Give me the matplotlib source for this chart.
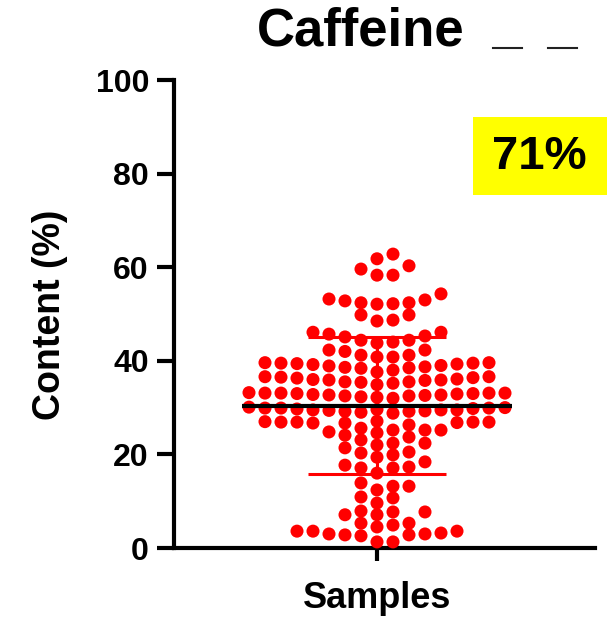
import matplotlib
matplotlib.use("Agg")
import matplotlib.pyplot as plt
import numpy as np
from matplotlib.patches import Rectangle
from matplotlib.lines import Line2D

plt.rcParams['font.family'] = ['Liberation Sans', 'DejaVu Sans']
plt.rcParams['font.weight'] = 'bold'

# ---- data ----
title_text = "Caffeine"
y_label = "Content (%)"
x_label = "Samples"
badge_text = "71%"
y_ticks = [0, 20, 40, 60, 80, 100]

content_values = [
    1.3, 1.3, 2.6, 2.8, 2.8, 3.0, 3.0, 3.2, 3.6, 3.6, 3.6, 4.5,
    4.9, 5.3, 5.3,
    7.1, 7.7, 7.9, 7.7, 7.1,
    10.7, 10.9, 9.6,
    13.9, 13.2, 12.4, 13.2,
    17.7, 17.1, 16.0, 17.1, 17.3,
    19.9, 20.3, 20.5, 19.4, 18.4,
    23.1, 22.0, 21.4, 23.7, 24.1, 22.4, 22.4,
    25.2, 25.6, 24.8, 24.6, 25.2, 25.2, 26.3, 26.7, 26.9, 26.9, 26.9, 26.7,
    26.8, 27.0, 27.1, 26.9,
    30.1, 29.9, 29.9, 29.8, 29.5, 29.3, 29.0, 28.8, 29.2, 29.6, 29.4, 29.2,
    29.5, 29.7, 29.9, 30.0, 29.5,
    33.1, 33.1, 33.1, 33.0, 32.5, 32.3, 32.0, 32.2, 32.6, 32.9, 32.7, 32.5,
    32.8, 33.0, 33.2, 33.1, 32.7,
    36.5, 36.3, 35.9, 35.5, 35.2, 34.9, 35.4, 36.0, 35.8, 35.5, 35.9, 36.1,
    36.4, 36.6, 36.6,
    39.5, 39.5, 38.7, 38.5, 38.0, 37.6, 38.4, 39.2, 38.9, 38.6, 39.0, 39.3,
    39.4, 39.6, 39.6,
    42.3, 41.2, 40.8, 42.0, 40.8, 41.2, 42.3,
    46.1, 45.7, 45.3, 44.4, 44.0, 43.8, 44.4, 45.1, 46.1,
    49.8, 48.5, 48.7, 49.8,
    53.2, 52.4, 52.4, 52.1, 52.2, 53.0, 52.8, 54.3,
    60.3, 61.8, 62.8, 58.3, 58.3, 59.6,
]
mean_value = 30.4
sd_value = 14.6

# ---- figure ----
W, H = 607, 620
fig = plt.figure(figsize=(W / 100, H / 100), dpi=100)
ax_left, ax_right, ax_top, ax_bottom = 174, 595, 80, 548
ax = fig.add_axes([ax_left / W, (H - ax_bottom) / H,
                   (ax_right - ax_left) / W, (ax_bottom - ax_top) / H])
center_px = 377
ax.set_xlim(ax_left - center_px, ax_right - center_px)
ax.set_ylim(0, 100)

# grid-column swarm layout (Prism-like)
col_step = 16
min_gap = 2.5
order = [0]
for k in range(1, 20):
    order += [k, -k]
last_in_col = {}
xs, ys = [], []
for v in sorted(content_values):
    for k in order:
        prev = last_in_col.get(k)
        if prev is None or v - prev >= min_gap:
            last_in_col[k] = v
            xs.append(k * col_step)
            ys.append(v)
            break

ax.scatter(xs, ys, s=88, c='#ff0000', edgecolors='none', zorder=3, clip_on=False)

# mean and SD
ax.hlines(mean_value, -135, 135, color='black', lw=3, zorder=5)
ax.hlines([mean_value - sd_value, mean_value + sd_value], -69, 69,
          color='#ff0000', lw=2.2, zorder=4)
ax.vlines(0, mean_value - sd_value, mean_value + sd_value,
          color='#ff0000', lw=2.2, zorder=4)

for s in ['top', 'right']:
    ax.spines[s].set_visible(False)
for s in ['left', 'bottom']:
    ax.spines[s].set_linewidth(3)
ax.set_yticks(y_ticks)
ax.set_xticks([0])
ax.set_xticklabels([''])
ax.tick_params(axis='y', length=12, width=3, pad=6, labelsize=23)
ax.tick_params(axis='x', length=9, width=3)
for lab in ax.get_yticklabels():
    lab.set_fontweight('bold')

# texts
fig.text(361 / W, 1 - 31 / H, title_text, fontsize=38, fontweight='bold',
         ha='center', va='center')
fig.text(50 / W, 1 - 315 / H, y_label, fontsize=27, fontweight='bold',
         rotation=90, ha='center', va='center')
fig.text(377 / W, 1 - 598 / H, x_label, fontsize=26, fontweight='bold',
         ha='center', va='center')

# badge
fig.patches.append(Rectangle((473 / W, 1 - 195 / H), (W - 473) / W, 78 / H,
                             transform=fig.transFigure, facecolor='#ffff00',
                             edgecolor='none', zorder=1))
fig.text(539 / W, 1 - 157 / H, badge_text, fontsize=34, fontweight='bold',
         ha='center', va='center', zorder=2)

# small stray marks near title
for x0, x1 in [(493, 522), (548, 577)]:
    fig.add_artist(Line2D([x0 / W, x1 / W], [1 - 48 / H, 1 - 48 / H],
                          transform=fig.transFigure, color='#222222', lw=1.5))

fig.savefig("out.png", dpi=100)
